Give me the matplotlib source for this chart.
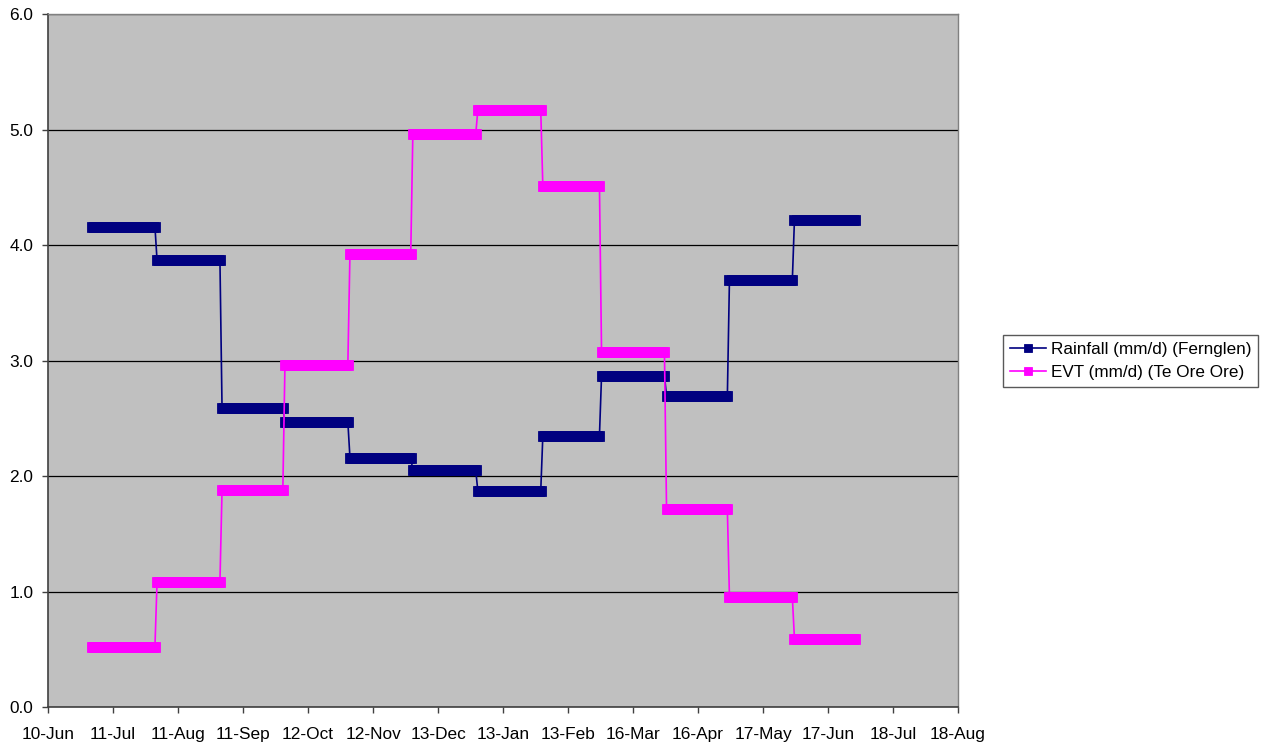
import numpy as np
import pandas as pd
import matplotlib
matplotlib.use("Agg")
import matplotlib.pyplot as plt
import matplotlib.dates as mdates

plt.rcParams['font.family'] = ['Liberation Sans', 'DejaVu Sans']

# Monthly mean values (July to June), held constant for every day of the month
months = ["Jul", "Aug", "Sep", "Oct", "Nov", "Dec",
          "Jan", "Feb", "Mar", "Apr", "May", "Jun"]
rainfall = [4.16, 3.87, 2.59, 2.47, 2.16, 2.05, 1.87, 2.35, 2.87, 2.69, 3.70, 4.22]
evt = [0.52, 1.08, 1.88, 2.96, 3.92, 4.96, 5.17, 4.51, 3.07, 1.71, 0.95, 0.59]

series_names = ["Rainfall (mm/d) (Fernglen)", "EVT (mm/d) (Te Ore Ore)"]
series_colors = ["#000080", "#FF00FF"]

start = pd.Timestamp("2006-07-01")
end = pd.Timestamp("2007-06-30")
days = pd.date_range(start, end, freq="D")
month_index = (days.year - start.year) * 12 + days.month - start.month

rain_daily = np.asarray(rainfall)[month_index]
evt_daily = np.asarray(evt)[month_index]

axis_start = pd.Timestamp("2006-06-10")
axis_end = pd.Timestamp("2007-08-18")
tick_dates = pd.date_range(axis_start, axis_end, freq="31D")

fig = plt.figure(figsize=(12.62, 7.44), dpi=100)
ax = fig.add_axes([48 / 1262, 37 / 744, 910 / 1262, 693 / 744])
ax.set_facecolor("#C0C0C0")

for y, name, color in zip([rain_daily, evt_daily], series_names, series_colors):
    ax.plot(days, y, color=color, lw=1.2, marker="s", markersize=7.2,
            markeredgecolor=color, markeredgewidth=0.6, label=name, zorder=3)

ax.set_xlim(axis_start, axis_end)
ax.set_ylim(0, 6)
ax.set_yticks(np.arange(0, 6.01, 1.0))
ax.yaxis.set_major_formatter(matplotlib.ticker.FormatStrFormatter("%.1f"))
ax.set_xticks(tick_dates)
ax.xaxis.set_major_formatter(mdates.DateFormatter("%d-%b"))

ax.grid(axis="y", color="black", lw=0.9, zorder=1)
ax.set_axisbelow(True)

for side in ("left", "bottom"):
    ax.spines[side].set_color("#404040")
    ax.spines[side].set_linewidth(1.2)
for side in ("top", "right"):
    ax.spines[side].set_color("#808080")
    ax.spines[side].set_linewidth(1.0)

ax.tick_params(axis="both", direction="out", length=4.5, width=1.0,
               color="#404040", labelsize=12.4)
ax.tick_params(axis="x", pad=10)
ax.tick_params(axis="y", pad=6)

leg = ax.legend(loc="center left", bbox_to_anchor=(1003 / 1262, 383 / 744),
                bbox_transform=fig.transFigure, fontsize=12.3, frameon=True,
                fancybox=False, edgecolor="#303030", borderpad=0.4,
                handlelength=2.1, handletextpad=0.3, labelspacing=0.5,
                markerscale=0.85, borderaxespad=0)
leg.get_frame().set_linewidth(1.0)

fig.savefig("out.png", dpi=100, facecolor="white")
